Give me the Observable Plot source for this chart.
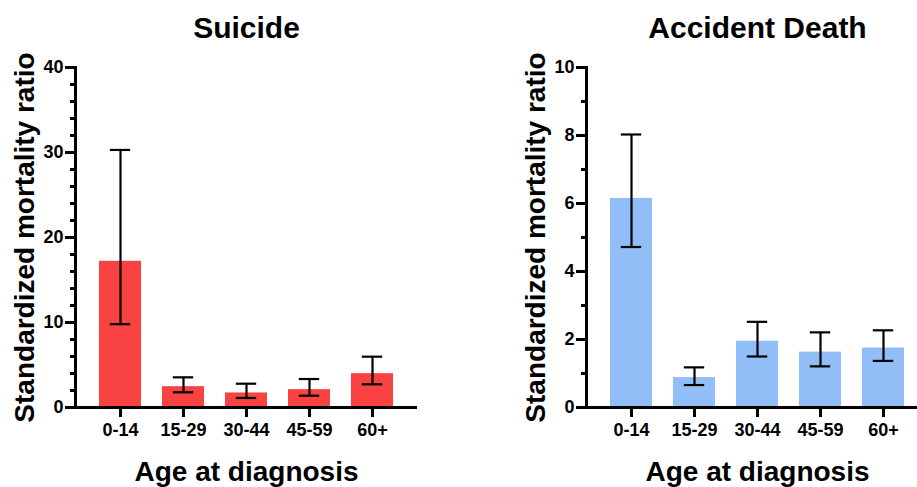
<!DOCTYPE html>
<html>
<head>
<meta charset="utf-8">
<script src="https://cdn.jsdelivr.net/npm/d3@7"></script>
<script src="https://cdn.jsdelivr.net/npm/@observablehq/plot@0.6"></script>
<style>
  html, body { margin: 0; padding: 0; background: #fff; overflow: hidden; }
  #wrap { position: relative; width: 917px; height: 487px; overflow: hidden; }
  #left { position: absolute; left: 0; top: 0; width: 458px; }
  #right { position: absolute; left: 458px; top: 0; width: 470px; }
  #wrap svg { max-width: none !important; }
  #wrap g[aria-label="y-axis tick"], #wrap g[aria-label="x-axis tick"] { stroke-width: 3px; }
</style>
</head>
<body>
<div id="wrap"><div id="left"></div><div id="right"></div></div>
<script>
const ages = ["0-14", "15-29", "30-44", "45-59", "60+"];

const suicideSMR  = [17.2, 2.45, 1.71, 2.1, 3.98];
const suicideLow  = [9.8, 1.79, 1.12, 1.39, 2.73];
const suicideHigh = [30.3, 3.55, 2.8, 3.35, 5.98];

const accidentSMR  = [6.15, 0.88, 1.95, 1.63, 1.75];
const accidentLow  = [4.72, 0.66, 1.5, 1.21, 1.37];
const accidentHigh = [8.03, 1.18, 2.52, 2.21, 2.27];

const suicideMajorTicks = [0, 10, 20, 30, 40];
const suicideMinorTicks = [2, 4, 6, 8, 12, 14, 16, 18, 22, 24, 26, 28, 32, 34, 36, 38];
const accidentMajorTicks = [0, 2, 4, 6, 8, 10];
const accidentMinorTicks = [1, 3, 5, 7, 9];

const FONT = "'Liberation Sans', Arial, Helvetica, sans-serif";

function makeChart({title, values, low, high, color, yMax, major, minor, width, marginLeft, marginRight}) {
  const data = ages.map((a, i) => ({age: a, v: values[i], lo: low[i], hi: high[i]}));
  return Plot.plot({
    width,
    height: 487,
    marginLeft,
    marginRight,
    marginTop: 67,
    marginBottom: 80,
    style: {fontFamily: FONT, fontWeight: "bold", fontSize: "18px", color: "black", background: "white", overflow: "visible", maxWidth: "none"},
    x: {type: "band", domain: ages, paddingInner: 0.333, paddingOuter: 0.34},
    y: {domain: [0, yMax]},
    marks: [
      Plot.barY(data, {x: "age", y: "v", fill: color}),
      Plot.ruleX(data, {x: "age", y1: "lo", y2: "hi", stroke: "black", strokeWidth: 2.2}),
      Plot.tickY(data, {x: "age", y: "hi", stroke: "black", strokeWidth: 2.2, insetLeft: 10.8, insetRight: 10.8}),
      Plot.tickY(data, {x: "age", y: "lo", stroke: "black", strokeWidth: 2.2, insetLeft: 10.8, insetRight: 10.8}),
      Plot.axisY({ticks: minor, tickSize: 5, tickFormat: () => "", strokeWidth: 3, label: null}),
      Plot.axisY({ticks: major, tickSize: 10, tickPadding: 2, strokeWidth: 3, fontSize: 18, label: null}),
      Plot.axisX({tickSize: 10, tickPadding: 6, strokeWidth: 3, fontSize: 18, label: null}),
      Plot.frame({anchor: "left", strokeWidth: 3}),
      Plot.ruleY([0], {strokeWidth: 3}),
      Plot.text([title], {frameAnchor: "top", lineAnchor: "bottom", dy: -30, fontSize: 30, fontWeight: "bold"}),
      Plot.text(["Standardized mortality ratio"], {frameAnchor: "left", textAnchor: "middle", lineAnchor: "bottom", rotate: -90, dx: -42, fontSize: 28, fontWeight: "bold"}),
      Plot.text(["Age at diagnosis"], {frameAnchor: "bottom", lineAnchor: "bottom", dy: 73, fontSize: 28, fontWeight: "bold"})
    ]
  });
}

document.getElementById("left").append(makeChart({
  title: "Suicide", values: suicideSMR, low: suicideLow, high: suicideHigh,
  color: "rgb(249,66,66)", yMax: 40, major: suicideMajorTicks, minor: suicideMinorTicks,
  width: 458, marginLeft: 75, marginRight: 41
}));

document.getElementById("right").append(makeChart({
  title: "Accident Death", values: accidentSMR, low: accidentLow, high: accidentHigh,
  color: "rgb(145,190,247)", yMax: 10, major: accidentMajorTicks, minor: accidentMinorTicks,
  width: 470, marginLeft: 128, marginRight: 0
}));
</script>
</body>
</html>
